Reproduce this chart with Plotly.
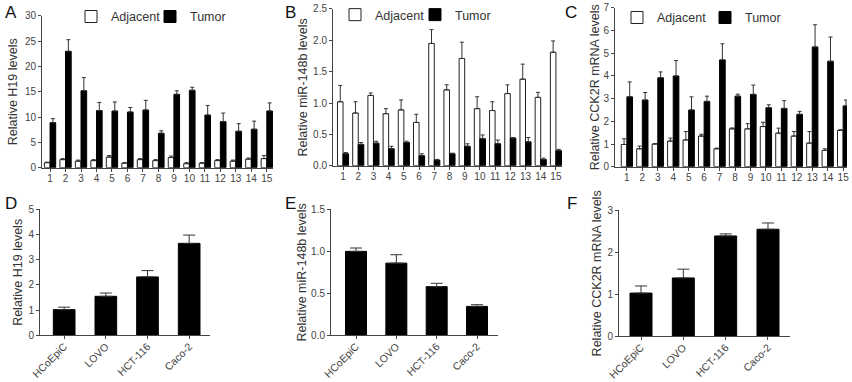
import plotly.graph_objects as go

cases = [str(i) for i in range(1, 16)]
cells = ["HCoEpiC", "LOVO", "HCT-116", "Caco-2"]

# Panel A: H19 in tissues
h19_adj = [1.0, 1.6, 1.3, 1.4, 2.1, 0.9, 1.6, 1.4, 2.0, 0.8, 0.9, 1.4, 1.3, 1.7, 1.8]
h19_adj_err = [0.1, 0.2, 0.2, 0.2, 0.3, 0.1, 0.2, 0.2, 0.3, 0.2, 0.1, 0.2, 0.2, 0.2, 0.6]
h19_tum = [8.9, 23.0, 15.2, 11.3, 11.2, 11.0, 11.4, 6.8, 14.5, 15.3, 10.4, 9.1, 7.2, 7.6, 11.2]
h19_tum_err = [0.8, 2.3, 2.6, 1.6, 1.8, 0.9, 1.9, 0.5, 0.7, 0.6, 1.9, 1.7, 1.5, 1.6, 1.6]

# Panel B: miR-148b in tissues
mir_adj = [1.02, 0.84, 1.12, 0.83, 0.89, 0.69, 1.95, 1.21, 1.71, 0.91, 0.88, 1.15, 1.38, 1.09, 1.81]
mir_adj_err = [0.26, 0.18, 0.04, 0.08, 0.16, 0.13, 0.22, 0.08, 0.26, 0.19, 0.14, 0.14, 0.24, 0.08, 0.18]
mir_tum = [0.19, 0.34, 0.36, 0.27, 0.37, 0.16, 0.09, 0.19, 0.31, 0.43, 0.35, 0.44, 0.38, 0.10, 0.24]
mir_tum_err = [0.02, 0.03, 0.03, 0.04, 0.02, 0.03, 0.01, 0.01, 0.04, 0.06, 0.06, 0.01, 0.07, 0.02, 0.02]

# Panel C: CCK2R in tissues
cck_adj = [0.98, 0.79, 1.0, 1.13, 1.18, 1.35, 0.79, 1.67, 1.67, 1.77, 1.48, 1.35, 1.04, 0.72, 1.6]
cck_adj_err = [0.25, 0.12, 0.02, 0.13, 0.37, 0.08, 0.03, 0.04, 0.23, 0.19, 0.22, 0.2, 0.51, 0.07, 0.03]
cck_tum = [3.08, 2.94, 3.92, 4.0, 2.5, 2.88, 4.71, 3.11, 3.19, 2.6, 2.57, 2.31, 5.28, 4.65, 2.68]
cck_tum_err = [0.66, 0.33, 0.26, 0.68, 0.58, 0.23, 0.71, 0.09, 0.41, 0.13, 0.34, 0.13, 0.98, 1.07, 0.26]

# Panels D-F: cell lines
h19_cells = [1.02, 1.55, 2.32, 3.65]
h19_cells_err = [0.1, 0.13, 0.25, 0.33]
mir_cells = [1.0, 0.86, 0.58, 0.345]
mir_cells_err = [0.04, 0.1, 0.04, 0.02]
cck_cells = [1.03, 1.39, 2.39, 2.55]
cck_cells_err = [0.17, 0.21, 0.05, 0.15]

FONT = "Liberation Sans, Arial, sans-serif"
W, H = 852, 382

def px_x(a, b):
    return [a / W, b / W]

def px_y(top, bottom):
    return [1 - bottom / H, 1 - top / H]

fig = go.Figure()

def err(vals):
    return dict(type="data", array=vals, arrayminus=[0] * len(vals), symmetric=False,
                color="#333", thickness=1, width=2)

def add_pair(xa, ya, adj, adj_e, tum, tum_e, legend):
    fig.add_trace(go.Bar(x=cases, y=adj, error_y=err(adj_e), name="Adjacent",
                         marker=dict(color="white", line=dict(color="#222", width=1)),
                         xaxis=xa, yaxis=ya, legend=legend, showlegend=True))
    fig.add_trace(go.Bar(x=cases, y=tum, error_y=err(tum_e), name="Tumor",
                         marker=dict(color="black", line=dict(color="black", width=1)),
                         xaxis=xa, yaxis=ya, legend=legend, showlegend=True))

add_pair("x", "y", h19_adj, h19_adj_err, h19_tum, h19_tum_err, "legend")
add_pair("x2", "y2", mir_adj, mir_adj_err, mir_tum, mir_tum_err, "legend2")
add_pair("x3", "y3", cck_adj, cck_adj_err, cck_tum, cck_tum_err, "legend3")

for xa, ya, vals, e in [("x4", "y4", h19_cells, h19_cells_err),
                        ("x5", "y5", mir_cells, mir_cells_err),
                        ("x6", "y6", cck_cells, cck_cells_err)]:
    fig.add_trace(go.Bar(x=cells, y=vals, error_y=dict(type="data", array=e, arrayminus=[0] * len(e),
                                                       symmetric=False, color="#333", thickness=1, width=6),
                         marker=dict(color="black", line=dict(color="black", width=1)),
                         width=0.52, xaxis=xa, yaxis=ya, showlegend=False))

axcommon = dict(showline=True, linecolor="#444", linewidth=1, ticks="outside", ticklen=3,
                tickcolor="#444", showgrid=False, zeroline=False, automargin=False,
                tickfont=dict(family=FONT, size=10, color="#444"))

def yax(domain, rng, dtick, title, fmt=None, anchor="x", standoff=4):
    d = dict(axcommon, domain=domain, range=rng, dtick=dtick, anchor=anchor,
             title=dict(text=title, font=dict(family=FONT, size=12.5, color="#333"), standoff=standoff))
    if fmt:
        d["tickformat"] = fmt
    return d

def xtop(domain, rng, anchor):
    return dict(axcommon, domain=domain, range=rng, anchor=anchor, ticklabelstandoff=-2)

def xbot(domain, rng, anchor):
    d = dict(axcommon, domain=domain, range=rng, anchor=anchor, tickangle=-45, ticklabelstandoff=-3)
    d["tickfont"] = dict(family=FONT, size=10.5, color="#444")
    return d

layout = dict(
    width=W, height=H, margin=dict(l=0, r=0, t=0, b=0),
    plot_bgcolor="white", paper_bgcolor="white",
    barmode="group", bargap=0.27, bargroupgap=0,
    font=dict(family=FONT),
    xaxis=xtop(px_x(42, 273), [-0.52, 14.4], "y"),
    yaxis=yax(px_y(13, 166), [0, 30], 5, "Relative H19 levels", anchor="x"),
    xaxis2=xtop(px_x(333, 562), [-0.66, 14.4], "y2"),
    yaxis2=yax(px_y(6, 164), [0, 2.5], 0.5, "Relative miR-148b levels", ".1f", anchor="x2", standoff=2),
    xaxis3=xtop(px_x(615, 847), [-0.77, 14.25], "y3"),
    yaxis3=yax(px_y(5, 165), [0, 7], 1, "Relative CCK2R mRNA levels", anchor="x3", standoff=1),
    xaxis4=xbot(px_x(40, 210), [-0.58, 3.5], "y4"),
    yaxis4=yax(px_y(208, 335), [0, 5], 1, "Relative H19 levels", anchor="x4", standoff=3),
    xaxis5=xbot(px_x(331, 498), [-0.62, 3.52], "y5"),
    yaxis5=yax(px_y(208, 335), [0, 1.5], 0.5, "Relative miR-148b levels", ".1f", anchor="x5", standoff=1),
    xaxis6=xbot(px_x(619, 790), [-0.52, 3.52], "y6"),
    yaxis6=yax(px_y(209, 336), [0, 3], 1, "Relative CCK2R mRNA levels", anchor="x6", standoff=3),
)

def leg(xpx, ypx, ew):
    return dict(orientation="h", x=xpx / W, y=1 - ypx / H, xanchor="left", yanchor="middle",
                bgcolor="rgba(0,0,0,0)", font=dict(family=FONT, size=12.5, color="#333"),
                itemwidth=30, entrywidth=ew, entrywidthmode="pixels", traceorder="normal")

layout["legend"] = leg(71, 14, 34)
layout["legend2"] = leg(335, 12, 35)
layout["legend3"] = leg(617, 15, 43)

fig.update_layout(**layout)

letters = [("A", 3, 10), ("B", 283, 10), ("C", 563, 10), ("D", 3, 202), ("E", 283, 202), ("F", 565, 202)]
for t, xp, yp in letters:
    fig.add_annotation(text=t, x=xp / W, y=1 - yp / H, xref="paper", yref="paper",
                       xanchor="left", yanchor="middle", showarrow=False,
                       font=dict(family=FONT, size=17, color="#111"))

fig.write_html("out.html")
